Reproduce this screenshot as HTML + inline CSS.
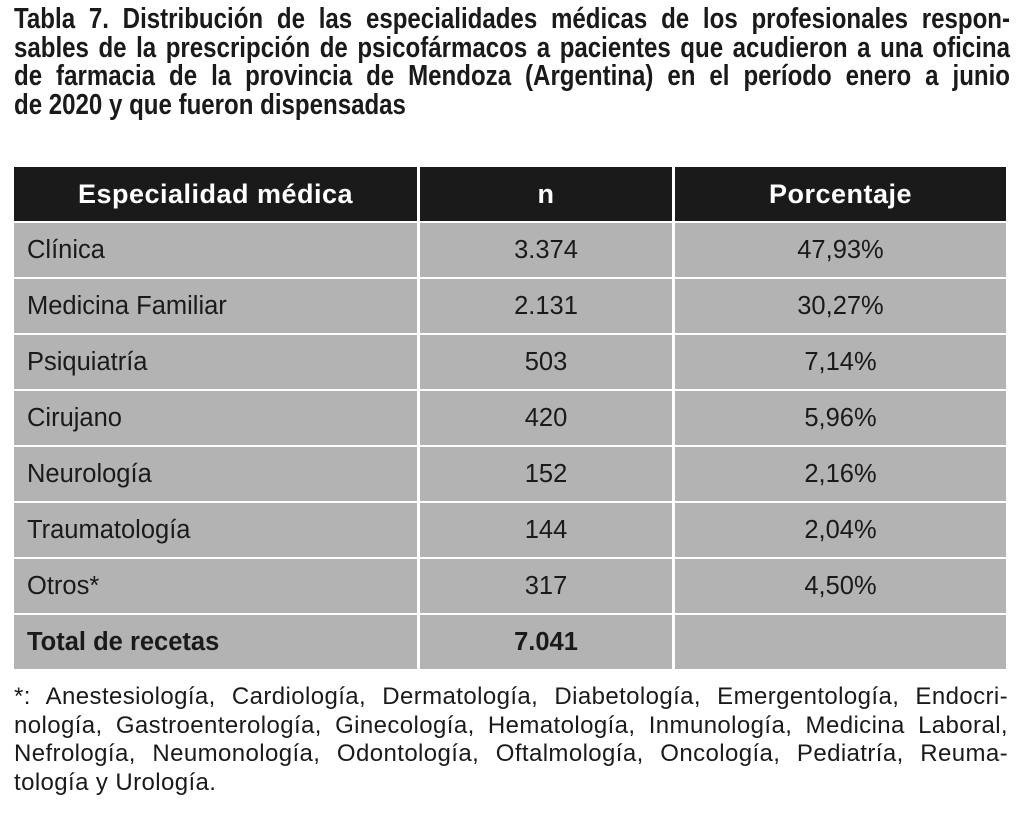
<!DOCTYPE html>
<html><head><meta charset="utf-8"><style>
body{margin:0;width:1024px;height:821px;background:#fff;font-family:"Liberation Sans",sans-serif;color:#1a1a1a;position:relative;overflow:hidden}
.title{position:absolute;left:14px;top:5px;width:1200px;transform:scaleX(0.83);transform-origin:0 0;font-weight:bold;font-size:29px;line-height:28.5px}
.title div{white-space:nowrap;text-align:justify;text-align-last:justify}
.title div.l{text-align-last:left}
.tw{position:absolute;left:14px;top:167px;width:992px}
.row{display:flex;height:54px;margin-bottom:2px}
.c{background:#b3b3b3;display:flex;align-items:center;font-size:25.5px;margin-right:3px}
.c1{width:403px;padding-left:13px;box-sizing:border-box}
.c2{width:252px;justify-content:center}
.c3{width:331px;justify-content:center;margin-right:0}
.h .c{background:#1a1a1a;color:#fff;font-weight:bold;font-size:27px;letter-spacing:0.5px}
.h .c1{justify-content:center;padding-left:0}
.b{font-weight:bold}
.foot{position:absolute;left:14px;top:683px;width:994px;font-size:24px;letter-spacing:0.4px;line-height:28.5px}
.foot div{white-space:nowrap;text-align:justify;text-align-last:justify}
.foot div.l{text-align-last:left}
</style></head><body>
<div class="title">
<div>Tabla 7. Distribución de las especialidades médicas de los profesionales respon-</div>
<div>sables de la prescripción de psicofármacos a pacientes que acudieron a una oficina</div>
<div>de farmacia de la provincia de Mendoza (Argentina) en el período enero a junio</div>
<div class="l">de 2020 y que fueron dispensadas</div>
</div>
<div class="tw">
<div class="row h"><div class="c c1">Especialidad médica</div><div class="c c2">n</div><div class="c c3">Porcentaje</div></div>
<div class="row"><div class="c c1">Clínica</div><div class="c c2">3.374</div><div class="c c3">47,93%</div></div>
<div class="row"><div class="c c1">Medicina Familiar</div><div class="c c2">2.131</div><div class="c c3">30,27%</div></div>
<div class="row"><div class="c c1">Psiquiatría</div><div class="c c2">503</div><div class="c c3">7,14%</div></div>
<div class="row"><div class="c c1">Cirujano</div><div class="c c2">420</div><div class="c c3">5,96%</div></div>
<div class="row"><div class="c c1">Neurología</div><div class="c c2">152</div><div class="c c3">2,16%</div></div>
<div class="row"><div class="c c1">Traumatología</div><div class="c c2">144</div><div class="c c3">2,04%</div></div>
<div class="row"><div class="c c1">Otros*</div><div class="c c2">317</div><div class="c c3">4,50%</div></div>
<div class="row"><div class="c c1 b">Total de recetas</div><div class="c c2 b">7.041</div><div class="c c3"></div></div>
</div>
<div class="foot">
<div>*: Anestesiología, Cardiología, Dermatología, Diabetología, Emergentología, Endocri-</div>
<div>nología, Gastroenterología, Ginecología, Hematología, Inmunología, Medicina Laboral,</div>
<div>Nefrología, Neumonología, Odontología, Oftalmología, Oncología, Pediatría, Reuma-</div>
<div class="l">tología y Urología.</div>
</div>
</body></html>
